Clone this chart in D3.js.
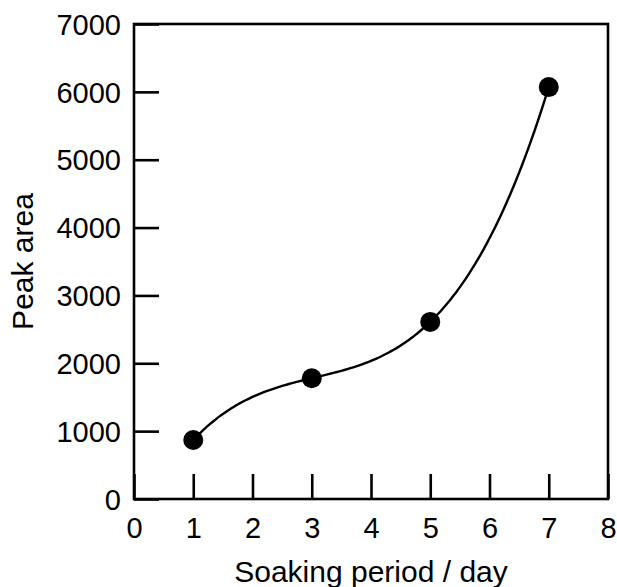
<!DOCTYPE html>
<html>
<head>
<meta charset="utf-8">
<script src="https://cdn.jsdelivr.net/npm/d3@7"></script>
<style>
  body { margin: 0; background: #fff; }
  text { font-family: "Liberation Sans", Arial, sans-serif; fill: #000; }
</style>
</head>
<body>
<svg width="617" height="587"></svg>
<script>
// Data
const days = [1, 3, 5, 7];
const peakArea = [870, 1780, 2610, 6070];
const xTicks = [0, 1, 2, 3, 4, 5, 6, 7, 8];
const yTicks = [0, 1000, 2000, 3000, 4000, 5000, 6000, 7000];

const svg = d3.select("svg");
const margin = { left: 134, right: 9, top: 24, bottom: 88 };
const width = 617, height = 587;

const x = d3.scaleLinear().domain([0, 8]).range([margin.left, width - margin.right]);
const y = d3.scaleLinear().domain([0, 7000]).range([height - margin.bottom, margin.top]);

// frame
svg.append("rect")
    .attr("x", x(0)).attr("y", y(7000))
    .attr("width", x(8) - x(0)).attr("height", y(0) - y(7000))
    .attr("fill", "none").attr("stroke", "#000").attr("stroke-width", 2.6);

// axes with inward ticks
const xAxis = svg.append("g")
    .attr("transform", `translate(0,${y(0)})`)
    .call(d3.axisBottom(x).tickValues(xTicks).tickSize(-25).tickFormat(d3.format("d")));
const yAxis = svg.append("g")
    .attr("transform", `translate(${x(0)},0)`)
    .call(d3.axisLeft(y).tickValues(yTicks).tickSize(-25).tickFormat(d3.format("d")));

[xAxis, yAxis].forEach(g => {
    g.select(".domain").remove();
    g.attr("font-size", 29).attr("font-family", "Liberation Sans, Arial, sans-serif");
    g.selectAll(".tick line").attr("stroke", "#000").attr("stroke-width", 2.6);
    g.selectAll(".tick text").attr("fill", "#000");
});
xAxis.selectAll(".tick text").attr("dy", 0).attr("y", 39);
yAxis.selectAll(".tick text").attr("x", -13).attr("dy", "0.35em");

// smooth trend line: the cubic passing through the measured points
function cubicThrough(xs, ys) {
    return t => d3.sum(xs, (xi, i) =>
        ys[i] * xs.reduce((p, xj, j) => j === i ? p : p * (t - xj) / (xi - xj), 1));
}
const fit = cubicThrough(days, peakArea);
const curveX = d3.range(days[0], days[days.length - 1] + 0.001, 0.05);

svg.append("path")
    .datum(curveX)
    .attr("fill", "none")
    .attr("stroke", "#000")
    .attr("stroke-width", 2.4)
    .attr("d", d3.line().x(d => x(d)).y(d => y(fit(d))).curve(d3.curveMonotoneX));

// markers
svg.append("g")
    .selectAll("circle")
    .data(days)
    .join("circle")
    .attr("cx", d => x(d))
    .attr("cy", (d, i) => y(peakArea[i]))
    .attr("r", 10)
    .attr("fill", "#000");

// axis titles
svg.append("text")
    .attr("x", (x(0) + x(8)) / 2)
    .attr("y", 582)
    .attr("text-anchor", "middle")
    .attr("font-size", 30)
    .text("Soaking period / day");

svg.append("text")
    .attr("transform", `translate(33,${(y(0) + y(7000)) / 2}) rotate(-90)`)
    .attr("text-anchor", "middle")
    .attr("font-size", 30)
    .text("Peak area");
</script>
</body>
</html>
